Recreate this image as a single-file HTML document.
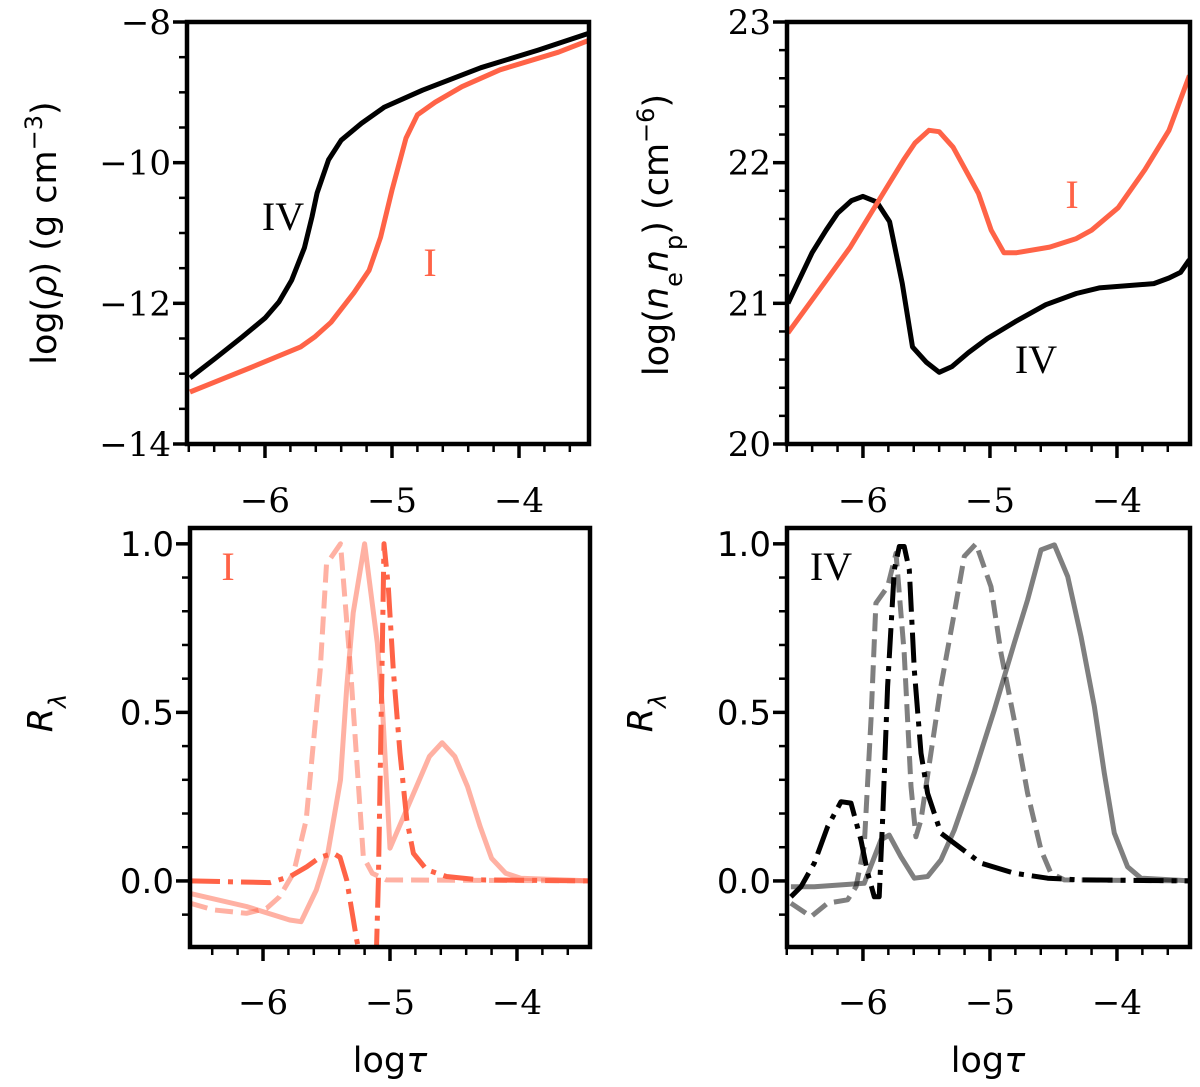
<!DOCTYPE html>
<html><head><meta charset="utf-8"><style>
html,body{margin:0;padding:0;background:#fff;}
svg{display:block;}
text{fill:#000;}
</style></head><body>
<svg id="fig" width="1200" height="1087" xmlns="http://www.w3.org/2000/svg"></svg>
<script>
// ---------- data ----------
const rhoIVx=[-6.59,-6.39,-6.18,-6.00,-5.89,-5.79,-5.69,-5.63,-5.59,-5.50,-5.40,-5.24,-5.06,-4.76,-4.30,-3.85,-3.45];
const rhoIVy=[-13.06,-12.78,-12.48,-12.21,-11.98,-11.67,-11.21,-10.77,-10.43,-9.96,-9.68,-9.44,-9.21,-8.97,-8.65,-8.40,-8.16];
const rhoIx=[-6.59,-6.12,-5.72,-5.61,-5.48,-5.30,-5.18,-5.09,-5.00,-4.89,-4.80,-4.66,-4.45,-4.15,-3.69,-3.45];
const rhoIy=[-13.26,-12.92,-12.62,-12.48,-12.27,-11.85,-11.53,-11.06,-10.39,-9.65,-9.32,-9.14,-8.92,-8.68,-8.43,-8.26];
const nnIVx=[-6.59,-6.40,-6.29,-6.20,-6.09,-6.00,-5.89,-5.79,-5.69,-5.61,-5.50,-5.40,-5.30,-5.17,-5.02,-4.80,-4.56,-4.32,-4.14,-3.71,-3.59,-3.50,-3.43];
const nnIVy=[21.00,21.36,21.52,21.64,21.73,21.76,21.72,21.58,21.14,20.69,20.58,20.51,20.55,20.65,20.75,20.87,20.99,21.07,21.11,21.14,21.18,21.22,21.31];
const nnIx=[-6.59,-6.38,-6.10,-5.89,-5.68,-5.59,-5.48,-5.40,-5.29,-5.09,-4.99,-4.89,-4.79,-4.53,-4.32,-4.20,-3.99,-3.78,-3.59,-3.43];
const nnIy=[20.79,21.05,21.40,21.71,22.02,22.14,22.23,22.22,22.11,21.78,21.52,21.36,21.36,21.40,21.46,21.52,21.68,21.95,22.23,22.62];
const rIsolidx=[-6.575,-6.13,-5.79,-5.70,-5.58,-5.49,-5.39,-5.34,-5.29,-5.20,-5.10,-5.06,-5.00,-4.87,-4.69,-4.59,-4.49,-4.39,-4.29,-4.20,-4.09,-3.97,-3.43];
const rIsolidy=[-0.037,-0.076,-0.116,-0.121,-0.027,0.082,0.30,0.577,0.795,1.0,0.706,0.517,0.097,0.211,0.369,0.41,0.369,0.28,0.161,0.067,0.023,0.008,0.0];
const rIdashx=[-6.575,-6.39,-6.13,-5.97,-5.87,-5.76,-5.66,-5.55,-5.50,-5.39,-5.31,-5.21,-5.14,-5.03,-3.43];
const rIdashy=[-0.066,-0.086,-0.096,-0.081,-0.047,0.023,0.181,0.626,0.94,1.0,0.626,0.072,0.023,0.003,0.0];
const rIddx=[-6.575,-5.945,-5.787,-5.656,-5.551,-5.446,-5.394,-5.341,-5.262,-5.157,-5.118,-5.091,-5.065,-5.047,-5.013,-4.974,-4.921,-4.868,-4.816,-4.711,-4.554,-4.291,-3.425];
const rIddy=[0,-0.005,0.013,0.042,0.07,0.082,0.07,0.003,-0.175,-0.363,-0.363,0.003,0.577,1.0,0.873,0.626,0.379,0.181,0.082,0.033,0.013,0.003,0];
const rIVsolidx=[-6.567,-6.383,-5.990,-5.858,-5.793,-5.701,-5.596,-5.491,-5.386,-5.281,-5.124,-4.966,-4.809,-4.704,-4.598,-4.493,-4.388,-4.283,-4.178,-4.100,-4.021,-3.916,-3.811,-3.417];
const rIVsolidy=[-0.017,-0.017,-0.007,0.122,0.136,0.072,0.008,0.013,0.062,0.151,0.32,0.507,0.705,0.834,0.982,0.997,0.903,0.725,0.517,0.32,0.142,0.042,0.008,0];
const rIVdashx=[-6.567,-6.409,-6.278,-6.121,-6.055,-5.990,-5.937,-5.898,-5.806,-5.740,-5.675,-5.622,-5.583,-5.543,-5.465,-5.386,-5.281,-5.202,-5.110,-4.992,-4.913,-4.809,-4.704,-4.598,-4.520,-4.415,-3.417];
const rIVdashy=[-0.066,-0.106,-0.066,-0.056,-0.017,0.102,0.478,0.824,0.873,0.972,0.676,0.28,0.131,0.181,0.379,0.577,0.795,0.963,1.0,0.873,0.676,0.478,0.26,0.092,0.023,0.003,0];
const rIVddx=[-6.567,-6.488,-6.383,-6.278,-6.173,-6.094,-6.016,-5.963,-5.911,-5.872,-5.845,-5.806,-5.753,-5.714,-5.675,-5.635,-5.596,-5.543,-5.491,-5.386,-5.281,-5.071,-4.809,-4.546,-4.283,-3.417];
const rIVddy=[-0.047,-0.017,0.053,0.161,0.235,0.231,0.122,0.023,-0.047,-0.047,0.181,0.577,0.923,0.992,0.992,0.923,0.626,0.379,0.26,0.142,0.112,0.053,0.023,0.008,0.003,0];
const xTicks=[-6,-5,-4];
const xTickLabels=["−6","−5","−4"];
const rhoTicks=[-8,-10,-12,-14];
const rhoTickLabels=["−8","−10","−12","−14"];
const nnTicks=[20,21,22,23];
const nnTickLabels=["20","21","22","23"];
const rTicks=[0,0.5,1.0];
const rTickLabels=["0.0","0.5","1.0"];

const NS="http://www.w3.org/2000/svg";
const svg=document.getElementById('fig');
function mk(tag,attrs,parent){const e=document.createElementNS(NS,tag);for(const k in attrs)e.setAttribute(k,attrs[k]);(parent||svg).appendChild(e);return e;}

function panel(name,L,R,T,B,x0,x1,y0,y1){
  const g=mk('g',{});
  
  
  const clipId=name+'-clip';
  const cp=mk('clipPath',{id:clipId},g);mk('rect',{x:L,y:T,width:R-L,height:B-T},cp);
  const sx=v=>L+(v-x0)/(x1-x0)*(R-L);
  const sy=v=>B-(v-y0)/(y1-y0)*(B-T);
  const data=mk('g',{'clip-path':'url(#'+clipId+')'},g);
  return {g,data,sx,sy,L,R,T,B};
}
function line(p,xs,ys,color,dash,opacity,name){
  const d=xs.map((x,i)=>(i?'L':'M')+p.sx(x).toFixed(1)+' '+p.sy(ys[i]).toFixed(1)).join(' ');
  const e=mk('path',{d:d,fill:'none',stroke:color,'stroke-width':5,'stroke-linejoin':'round','stroke-opacity':opacity||1},p.data);
  if(dash)e.setAttribute('stroke-dasharray',dash);
  
  
}
function frame(p){
  const e=mk('rect',{x:p.L,y:p.T,width:p.R-p.L,height:p.B-p.T,fill:'none',stroke:'#000','stroke-width':4.5},p.g);
  
  
}
function xAxis(p,minor,lo,hi,showLabels){
  for(let v=lo;v<=hi+1e-9;v+=minor){
    const isMaj=Math.abs(v-Math.round(v))<1e-6;
    const X=p.sx(v);if(X<p.L-1||X>p.R+1)continue;
    mk('line',{x1:X,x2:X,y1:p.B,y2:p.B+(isMaj?14:8),stroke:'#000','stroke-width':isMaj?3.5:2.5},p.g);
  }
  if(showLabels)xTicks.forEach((v,i)=>{
    const t=mk('text',{x:p.sx(v),y:p.B+68,'text-anchor':'middle','font-family':'DejaVu Serif, Liberation Serif, serif','font-size':34},p.g);
    t.textContent=xTickLabels[i];
    
    
  });
}
function yAxis(p,ticks,labels,minorStep,lo,hi,font){
  for(let v=lo;v<=hi+1e-9;v+=minorStep){
    const Y=p.sy(v);if(Y<p.T-1||Y>p.B+1)continue;
    const isMaj=ticks.some(t=>Math.abs(t-v)<1e-6);
    mk('line',{x1:p.L,x2:p.L-(isMaj?14:8),y1:Y,y2:Y,stroke:'#000','stroke-width':isMaj?3.5:2.5},p.g);
  }
  ticks.forEach((v,i)=>{
    const t=mk('text',{x:p.L-16,y:p.sy(v)+12,'text-anchor':'end','font-family':font,'font-size':34},p.g);
    t.textContent=labels[i];
    
    
  });
}
function label(txt,x,y,color,size,name,family){
  const t=mk('text',{x:x,y:y,'text-anchor':'middle','font-family':family||'Liberation Serif, DejaVu Serif, serif','font-size':size,fill:color});
  t.style.fill=color;
  t.textContent=txt;
  
  
  return t;
}
const TOM='#ff6347';
const serif='DejaVu Serif, Liberation Serif, serif';
const sans='DejaVu Sans, Liberation Sans, sans-serif';

// top-left
const p1=panel('density-panel',187,589,22,444,-6.614,-3.449,-14,-8);
line(p1,rhoIVx,rhoIVy,'#000',null,1,'density-iv-line');
line(p1,rhoIx,rhoIy,TOM,null,1,'density-i-line');
frame(p1);xAxis(p1,0.2,-6.6,-3.4,true);yAxis(p1,rhoTicks,rhoTickLabels,0.5,-14,-8,serif);
label('IV',283,230,'#000',40,'label-iv-density');
label('I',430,276,TOM,40,'label-i-density');

// top-right
const p2=panel('emission-measure-panel',787,1190,22,444,-6.598,-3.425,20,23);
line(p2,nnIVx,nnIVy,'#000',null,1,'em-iv-line');
line(p2,nnIx,nnIy,TOM,null,1,'em-i-line');
frame(p2);xAxis(p2,0.2,-6.6,-3.4,true);yAxis(p2,nnTicks,nnTickLabels,0.2,20,23,serif);
label('I',1072,208,TOM,40,'label-i-em');
label('IV',1036,373,'#000',40,'label-iv-em');

// bottom-left
const p3=panel('response-i-panel',190,590,528,947,-6.575,-3.425,-0.196,1.047);
line(p3,rIsolidx,rIsolidy,TOM,null,0.5,'response-i-solid');
line(p3,rIdashx,rIdashy,TOM,'18 8',0.5,'response-i-dashed');
line(p3,rIddx,rIddy,TOM,'30 8 5 8',1,'response-i-dashdot');
frame(p3);xAxis(p3,0.2,-6.6,-3.4,false);yAxis(p3,rTicks,rTickLabels,0.1,-0.2,1.05,sans);
xTicks.forEach((v,i)=>{const t=mk('text',{x:p3.sx(v),y:1014,'text-anchor':'middle','font-family':serif,'font-size':34});t.textContent=xTickLabels[i];

});
label('I',228,580,TOM,40,'label-i-response');

// bottom-right
const p4=panel('response-iv-panel',787,1190,528,947,-6.598,-3.425,-0.196,1.047);
line(p4,rIVsolidx,rIVsolidy,'#000',null,0.5,'response-iv-solid');
line(p4,rIVdashx,rIVdashy,'#000','18 8',0.5,'response-iv-dashed');
line(p4,rIVddx,rIVddy,'#000','30 8 5 8',1,'response-iv-dashdot');
frame(p4);xAxis(p4,0.2,-6.6,-3.4,false);yAxis(p4,rTicks,rTickLabels,0.1,-0.2,1.05,sans);
xTicks.forEach((v,i)=>{const t=mk('text',{x:p4.sx(v),y:1014,'text-anchor':'middle','font-family':serif,'font-size':34});t.textContent=xTickLabels[i];

});
label('IV',831,580,'#000',40,'label-iv-response');
</script>
<!-- axis titles -->
<svg width="1200" height="1087" style="position:absolute;left:0;top:0;pointer-events:none" xmlns="http://www.w3.org/2000/svg">
<text transform="translate(56,233) rotate(-90)" text-anchor="middle" font-family="DejaVu Sans, Liberation Sans, sans-serif" font-size="35">log(<tspan font-style="italic">ρ</tspan>) (g cm<tspan baseline-shift="super" font-size="24">−3</tspan>)</text>
<text transform="translate(668,235) rotate(-90)" text-anchor="middle" font-family="DejaVu Sans, Liberation Sans, sans-serif" font-size="35">log(<tspan font-style="italic">n</tspan><tspan baseline-shift="sub" font-size="24">e</tspan><tspan font-style="italic">n</tspan><tspan baseline-shift="sub" font-size="24">p</tspan>) (cm<tspan baseline-shift="super" font-size="24">−6</tspan>)</text>
<text transform="translate(52,713) rotate(-90)" text-anchor="middle" font-family="DejaVu Sans, Liberation Sans, sans-serif" font-size="35"><tspan font-style="italic">R</tspan><tspan baseline-shift="sub" font-size="24" font-style="italic">λ</tspan></text>
<text transform="translate(652,713) rotate(-90)" text-anchor="middle" font-family="DejaVu Sans, Liberation Sans, sans-serif" font-size="35"><tspan font-style="italic">R</tspan><tspan baseline-shift="sub" font-size="24" font-style="italic">λ</tspan></text>
<text x="390" y="1072" text-anchor="middle" font-family="DejaVu Sans, Liberation Sans, sans-serif" font-size="35">log<tspan font-style="italic">τ</tspan></text>
<text x="988" y="1072" text-anchor="middle" font-family="DejaVu Sans, Liberation Sans, sans-serif" font-size="35">log<tspan font-style="italic">τ</tspan></text>
</svg>
</body></html>
